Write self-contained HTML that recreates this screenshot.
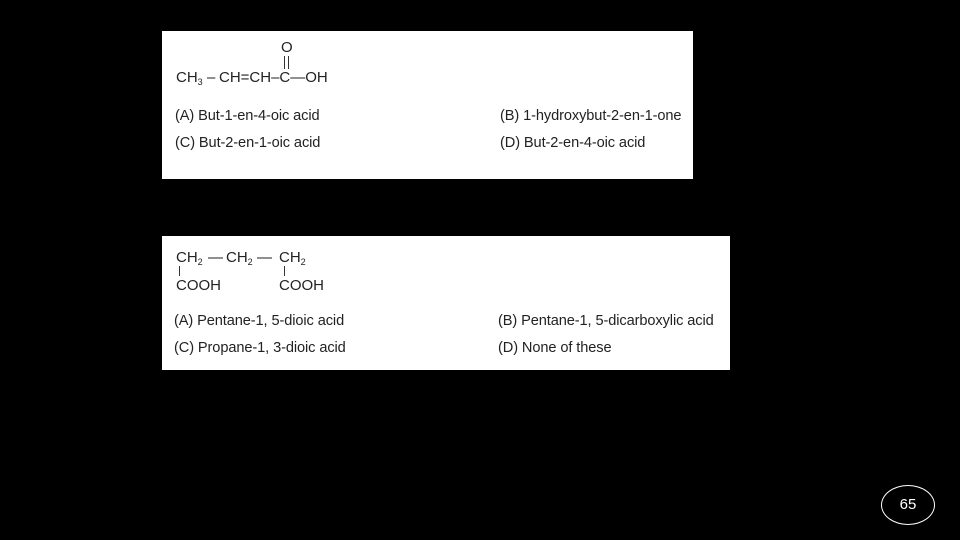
<!DOCTYPE html>
<html><head><meta charset="utf-8"><style>
body{margin:0;width:960px;height:540px;background:#000;position:relative;overflow:hidden;font-family:"Liberation Sans",Arial,sans-serif;color:#222}
.box{position:absolute;background:#fff}
.t{position:absolute;font-size:14.6px;letter-spacing:-0.1px;white-space:nowrap;line-height:16px}
.s{position:absolute;font-size:15px;white-space:nowrap;line-height:16px}
sub{font-size:9px;vertical-align:-3px;line-height:0}
.l{position:absolute;background:#333}
</style></head><body>
<div class="box" style="left:162px;top:31px;width:531px;height:148px"></div>
<div class="box" style="left:162px;top:236px;width:568px;height:134px"></div>

<!-- structure 1 -->
<div class="s" style="left:176px;top:70px">CH<sub>3</sub></div>
<div class="s" style="left:207px;top:70px">–</div>
<div class="s" style="left:219px;top:70px">CH=CH–C—OH</div>
<div class="s" style="left:281px;top:40px">O</div>
<div class="l" style="left:284px;top:56px;width:1px;height:13px"></div>
<div class="l" style="left:288px;top:56px;width:1px;height:13px"></div>

<div class="t" style="left:175px;top:108px">(A) But-1-en-4-oic acid</div>
<div class="t" style="left:500px;top:108px">(B) 1-hydroxybut-2-en-1-one</div>
<div class="t" style="left:175px;top:135px">(C) But-2-en-1-oic acid</div>
<div class="t" style="left:500px;top:135px">(D) But-2-en-4-oic acid</div>

<!-- structure 2 -->
<div class="s" style="left:176px;top:250px">CH<sub>2</sub></div>
<div class="s" style="left:208px;top:250px">—</div>
<div class="s" style="left:226px;top:250px">CH<sub>2</sub></div>
<div class="s" style="left:257px;top:250px">—</div>
<div class="s" style="left:279px;top:250px">CH<sub>2</sub></div>
<div class="l" style="left:179px;top:266px;width:1px;height:10px"></div>
<div class="l" style="left:284px;top:266px;width:1px;height:10px"></div>
<div class="s" style="left:176px;top:278px">COOH</div>
<div class="s" style="left:279px;top:278px">COOH</div>

<div class="t" style="left:174px;top:313px">(A) Pentane-1, 5-dioic acid</div>
<div class="t" style="left:498px;top:313px">(B) Pentane-1, 5-dicarboxylic acid</div>
<div class="t" style="left:174px;top:340px">(C) Propane-1, 3-dioic acid</div>
<div class="t" style="left:498px;top:340px">(D) None of these</div>

<div style="position:absolute;left:881px;top:485px;width:52px;height:38px;border:1.5px solid #fff;border-radius:50%;color:#fff;font-size:15px;text-align:center;line-height:38px">65</div>
</body></html>
